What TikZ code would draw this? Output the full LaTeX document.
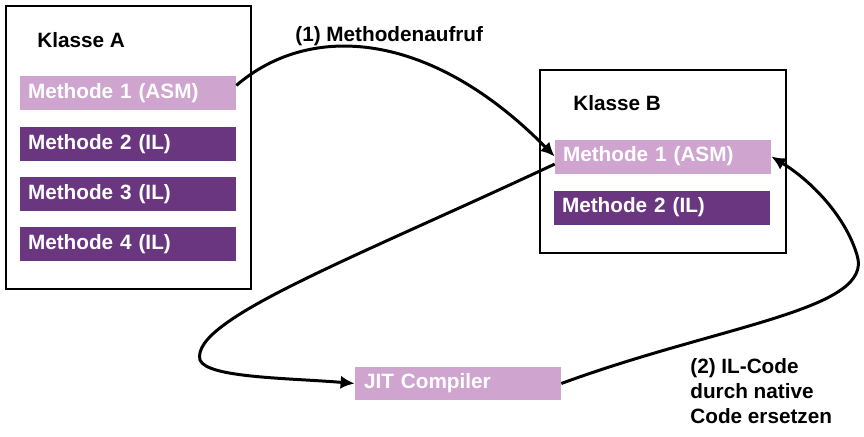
\documentclass[tikz,border=0pt]{standalone}
\usepackage{fontspec}
\setmainfont{Liberation Sans}
\usepackage{tikz}
\usetikzlibrary{calc, positioning, arrows.meta}

\definecolor{asm}{HTML}{CFA5CF}
\definecolor{il}{HTML}{6A3680}

\tikzset{
    klasse/.style={draw, line width=1.2pt, inner sep=0pt},
    titel/.style={anchor=west, inner sep=0pt},
    methode/.style={text=white, minimum height=0.68cm, text width=4.0cm, inner xsep=0.16cm, inner ysep=0pt, align=left},
    asmbox/.style={methode, fill=asm},
    ilbox/.style={methode, fill=il},
    aufruf/.style={line width=1.7pt, -{Latex[length=8pt,width=7.5pt]}}
}

\begin{document}
\begin{tikzpicture}[x=0.02cm, y=-0.02cm, font=\fontsize{11.8}{14.2}\selectfont\bfseries]

    \useasboundingbox (0,0) rectangle (864,436);

    % klasse A
    \node[klasse, minimum width=4.9cm, minimum height=5.66cm] (klasseA) at (128.5,147.5) {};
    \node[titel] (titelA) at (37,40) {Klasse A};
    \node[asmbox] (a1) at (128,93) {Methode 1 (ASM)};
    \foreach \i/\y in {2/144,3/194,4/244}
        \node[ilbox] (a\i) at (128,\y) {Methode \i\ (IL)};

    % klasse B
    \node[klasse, minimum width=4.92cm, minimum height=3.66cm] (klasseB) at (663,161.5) {};
    \node[titel] (titelB) at (573,103) {Klasse B};
    \node[asmbox] (b1) at (663,156.5) {Methode 1 (ASM)};
    \node[ilbox] (b2) at (662,207.5) {Methode 2 (IL)};

    % compiler
    \node[asmbox, text width=3.76cm, inner xsep=0.18cm, minimum height=0.66cm] (jit) at (458,383.5) {JIT Compiler};

    % step labels
    \node[titel] (schritt1) at (295,36) {(1) Methodenaufruf};
    \node[anchor=north west, inner sep=0pt, align=left] (schritt2) at (690,358) {(2) IL-Code\\durch native\\Code ersetzen};

    %first call
    \draw[aufruf] (a1.4) .. controls (310,22) and (430,30) .. (b1.west);
    %to the compiler
    \draw[aufruf] (b1.184) .. controls (350,260) and (190,320) .. (200,360)
        .. controls (207,378) and (290,378) .. (jit.west);
    %back to klasse B
    \draw[aufruf] (jit.east) .. controls (720,325) and (875,310) .. (857,255)
        .. controls (845,215) and (810,180) .. (b1.east);

\end{tikzpicture}
\end{document}
